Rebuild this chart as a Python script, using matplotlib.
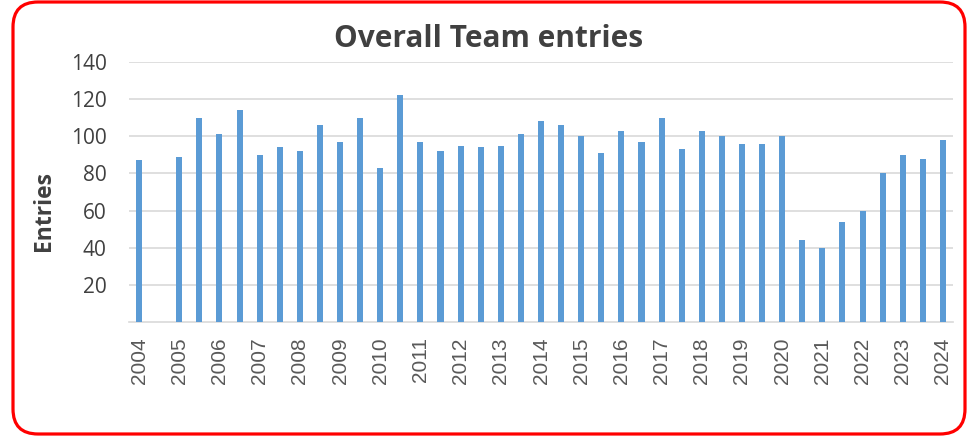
import matplotlib
matplotlib.use("Agg")
import matplotlib.pyplot as plt
from matplotlib.patches import FancyBboxPatch
import numpy as np

# two entries per year (first / second half), 2004 second half missing
years = list(range(2004, 2025))
entries = [87, np.nan,
           89, 110,
           101, 114,
           90, 94,
           92, 106,
           97, 110,
           83, 122,
           97, 92,
           95, 94,
           95, 101,
           108, 106,
           100, 91,
           103, 97,
           110, 93,
           103, 100,
           96, 96,
           100, 44,
           40, 54,
           60, 80,
           90, 88,
           98]
ylabels = [20, 40, 60, 80, 100, 120, 140]

W, H = 967, 436
fig = plt.figure(figsize=(W / 100, H / 100), dpi=100)

# red rounded frame, drawn in pixel coordinates
bg = fig.add_axes([0, 0, 1, 1])
bg.set_xlim(0, W)
bg.set_ylim(H, 0)
bg.axis("off")
bg.add_patch(FancyBboxPatch((13, 2), 952, 432,
                            boxstyle="round,pad=0,rounding_size=25",
                            fill=False, edgecolor="#FF0000", linewidth=2.3))

left, right, top, bottom = 129, 953, 62, 322
ax = fig.add_axes([left / W, (H - bottom) / H, (right - left) / W, (bottom - top) / H])
ax.patch.set_alpha(0)

x = np.arange(len(entries))
ax.bar(x, entries, width=0.3, color="#5B9BD5", zorder=3)

ax.set_xlim(-0.5, len(entries) - 0.5)
ax.set_ylim(0, 140)
ax.set_yticks(ylabels)
ax.set_yticklabels([str(v) for v in ylabels], fontsize=15, family="Open Sans", color="#404040")
ax.set_xticks(x[::2])
ax.set_xticklabels([str(y) for y in years], rotation=90, fontsize=15,
                   family="Liberation Sans", color="#595959")
ax.tick_params(axis="both", length=0)
ax.tick_params(axis="y", pad=16)
ax.tick_params(axis="x", pad=11)

ax.grid(axis="y", color="#D9D9D9", linewidth=1.2, zorder=0)
for s in ["top", "right", "left"]:
    ax.spines[s].set_visible(False)
ax.spines["bottom"].set_color("#D9D9D9")
ax.spines["bottom"].set_linewidth(1.2)

ax.set_ylabel("Entries", fontsize=16.5, fontweight="bold", family="Open Sans",
              color="#404040")
ax.yaxis.set_label_coords(-0.089, 0.427)

fig.text(489 / W, 1 - 47 / H, "Overall Team entries", ha="center", va="baseline",
         fontsize=21.5, fontweight="bold", family="Open Sans", color="#404040")

fig.savefig("out.png", dpi=100)
